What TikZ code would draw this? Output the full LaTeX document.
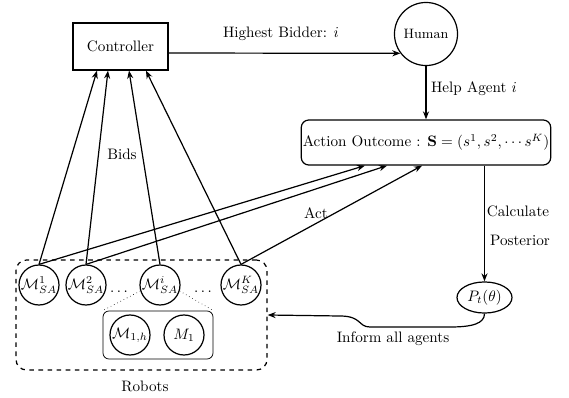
\documentclass[tikz,border=0pt]{standalone}
\usetikzlibrary{arrows.meta,shapes.geometric}
\begin{document}
\begin{tikzpicture}[x=0.66pt,y=-0.66pt,
  >={Stealth[length=5.3pt,width=4pt]}, line width=0.8pt,
  ctrlbox/.style={draw, rectangle, minimum width=62.7pt, minimum height=31pt, inner sep=0pt},
  agent/.style={draw, circle, minimum size=26.4pt, inner sep=0pt},
  lbl/.style={inner sep=1pt}]
\useasboundingbox (0,0) rectangle (569,398);

% main nodes
\node[ctrlbox] (ctrl) at (120.5,46.5) {Controller};
\node[draw, circle, minimum size=41.6pt, inner sep=0pt] (human) at (426,34) {\small Human};
\node[draw, rounded corners=5pt, minimum width=155pt, minimum height=29.7pt, inner sep=1pt] (action) at (426,142.5)
  {Action Outcome : $\mathbf{S} = (s^1, s^2, \cdots s^K)$};
\node[draw, ellipse, minimum width=36.3pt, minimum height=20.5pt, inner sep=0pt] (P) at (484.5,297.5) {$P_t(\theta)$};

% robots group
\node[draw, dashed, rounded corners=7pt, minimum width=165.7pt, minimum height=72.6pt] (robots) at (141.5,315) {};
\node[draw, rounded corners=4pt, minimum width=72.6pt, minimum height=31.7pt, line width=0.5pt] (inner) at (158,335) {};
\node[agent] (m1) at (39,285) {$\mathcal{M}_{SA}^{1}$};
\node[agent] (m2) at (86,285) {$\mathcal{M}_{SA}^{2}$};
\node[agent] (mi) at (160,285) {$\mathcal{M}_{SA}^{i}$};
\node[agent] (mk) at (241,285) {$\mathcal{M}_{SA}^{K}$};
\node (d1) at (119,292) {$\cdots$};
\node (d2) at (203,292) {$\cdots$};
\node[agent] (m1h) at (130,335) {$\mathcal{M}_{1,h}$};
\node[agent] (mone) at (184,335) {$M_1$};
\draw[dotted, line width=0.4pt] (mi.197) -- (inner.north west);
\draw[dotted, line width=0.4pt] (mi.343) -- (inner.north east);

% connectors
\draw[->] ([yshift=-4.3pt]ctrl.east) -- (human.217);
\node[lbl] at (281,34) {Highest Bidder: $i$};
\draw[->] (human.south) -- (action.north);
\node[lbl, anchor=west] at (429,89) {Help Agent $i$};

\draw[->] (m1.north) -- ([xshift=-15.5pt]ctrl.south);
\draw[->] (m2.north) -- ([xshift=-8.25pt]ctrl.south);
\draw[->] (mi.north) -- ([xshift=5.6pt]ctrl.south);
\draw[->] (mk.north) -- ([xshift=16.8pt]ctrl.south);
\node[lbl] at (122,154) {Bids};

\draw[->] (m1.north) -- ([xshift=-40.3pt]action.south);
\draw[->] (m2.north) -- ([xshift=-25.7pt]action.south);
\draw[->] (mk.north) -- ([xshift=-2.6pt]action.south);
\node[lbl] at (316,213) {Act};

\draw[->] (action.south -| P.north) -- (P.north);
\node[lbl] at (518,211) {Calculate};
\node[lbl] at (520,240) {Posterior};

\draw[->] (P.south) .. controls +(0,10) and (472,327) .. (450,327) -- (370,327)
  .. controls (358,327) and (362,316) .. (340,316) -- (robots.east);
\node[lbl] at (393,339) {Inform all agents};
\node[lbl] at (145,386) {Robots};
\end{tikzpicture}
\end{document}
